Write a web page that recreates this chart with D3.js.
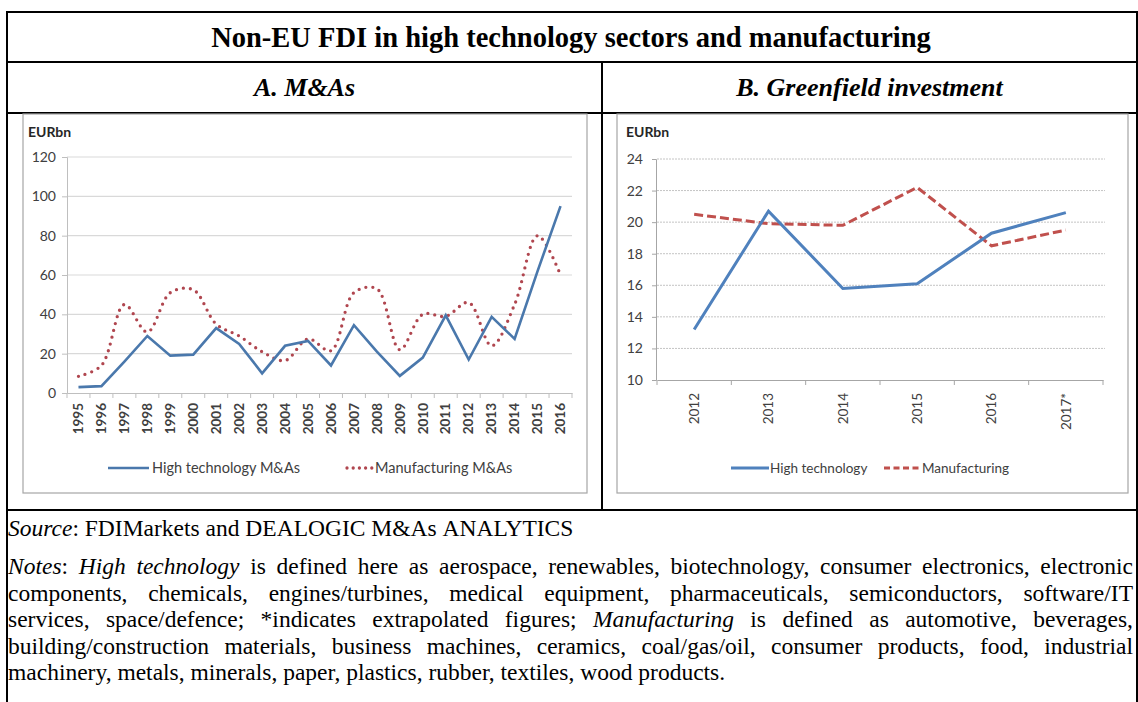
<!DOCTYPE html>
<html><head><meta charset="utf-8">
<script src="https://cdn.jsdelivr.net/npm/d3@7/dist/d3.min.js"></script>
<style>body{margin:0;background:#fff}svg{display:block}</style>
</head><body>
<svg id="c" width="1138" height="702"></svg>
<script>
// ---------- DATA ----------
const mainTitle = "Non-EU FDI in high technology sectors and manufacturing";
const panelTitles = ["A. M&As", "B. Greenfield investment"];
const unitLabel = "EURbn";

const yearsA = ["1995","1996","1997","1998","1999","2000","2001","2002","2003","2004","2005","2006","2007","2008","2009","2010","2011","2012","2013","2014","2015","2016"];
const highTechMA = [3,3.5,16,29,19,19.5,33,25,10,24,26.5,14,34.5,21,8.7,18,39.5,17,38.7,27.5,62,95];
const manufMA    = [8.5,14,45,31,51,52.5,35,29,21,16.5,27.5,21.5,51,53,22,40,39,46,24,45,80,60];
const yTicksA = [0,20,40,60,80,100,120];
const seriesNamesA = ["High technology M&As", "Manufacturing M&As"];

const yearsB = ["2012","2013","2014","2015","2016","2017*"];
const highTechGF = [13.2,20.7,15.8,16.1,19.3,20.6];
const manufGF    = [20.5,19.9,19.8,22.2,18.5,19.5];
const yTicksB = [10,12,14,16,18,20,22,24];
const seriesNamesB = ["High technology", "Manufacturing"];

const sourceLine = "_Source_: FDIMarkets and DEALOGIC M&As ANALYTICS";
const noteLines = [
  "_Notes_: _High technology_ is defined here as aerospace, renewables, biotechnology, consumer electronics, electronic",
  "components, chemicals, engines/turbines, medical equipment, pharmaceuticals, semiconductors, software/IT",
  "services, space/defence; *indicates extrapolated figures; _Manufacturing_ is defined as automotive, beverages,",
  "building/construction materials, business machines, ceramics, coal/gas/oil, consumer products, food, industrial",
  "machinery, metals, minerals, paper, plastics, rubber, textiles, wood products."
];

// ---------- LAYOUT ----------
const svg = d3.select("#c");
const serif = "'Liberation Serif','Times New Roman',serif";
const sans = "Lato, 'Open Sans', sans-serif";
const L = {tableL:7, tableR:1137, top:12, titleLine:62, subLine:113, mid:602, chartBottom:510,
  boxTop:114, boxBottom:493};

const tbl = svg.append("g").attr("stroke","#000");
const hl = (y)=>tbl.append("line").attr("x1",L.tableL-1).attr("x2",L.tableR+1).attr("y1",y).attr("y2",y).attr("stroke-width",2);
[L.top,L.titleLine,L.subLine,L.chartBottom].forEach(hl);
tbl.append("line").attr("x1",L.tableL).attr("x2",L.tableL).attr("y1",L.top).attr("y2",702).attr("stroke-width",2);
tbl.append("line").attr("x1",L.tableR).attr("x2",L.tableR).attr("y1",L.top).attr("y2",702).attr("stroke-width",2);
tbl.append("line").attr("x1",L.mid).attr("x2",L.mid).attr("y1",L.titleLine).attr("y2",L.chartBottom).attr("stroke-width",2);

svg.append("text").attr("x",571).attr("y",47)
  .attr("text-anchor","middle").attr("font-family",serif).attr("font-weight","bold").attr("font-size",28.5).text(mainTitle);
svg.append("text").attr("x",(L.tableL+L.mid)/2).attr("y",96)
  .attr("text-anchor","middle").attr("font-family",serif).attr("font-weight","bold").attr("font-style","italic").attr("font-size",26).text(panelTitles[0]);
svg.append("text").attr("x",(L.mid+L.tableR)/2).attr("y",96)
  .attr("text-anchor","middle").attr("font-family",serif).attr("font-weight","bold").attr("font-style","italic").attr("font-size",26).text(panelTitles[1]);

svg.append("rect").attr("x",23).attr("y",L.boxTop).attr("width",587-23).attr("height",L.boxBottom-L.boxTop)
  .attr("fill","#fff").attr("stroke","#a6a6a6").attr("stroke-width",1.2);
svg.append("rect").attr("x",617).attr("y",L.boxTop).attr("width",1128-617).attr("height",L.boxBottom-L.boxTop)
  .attr("fill","#fff").attr("stroke","#a6a6a6").attr("stroke-width",1.2);

const axisColor = "#404040";
// ---------- CHART A ----------
(function(){
  const g = svg.append("g");
  const x = d3.scaleBand().domain(yearsA).range([67,572]);
  const y = d3.scaleLinear().domain([0,120]).range([393,157]);
  g.append("text").attr("x",28).attr("y",137).attr("font-family",sans).attr("font-weight","bold")
    .attr("font-size",14).attr("fill","#262626").text(unitLabel);
  g.append("g").selectAll("line").data(yTicksA.filter(d=>d>0)).join("line")
    .attr("x1",67).attr("x2",572).attr("y1",d=>y(d)).attr("y2",d=>y(d)).attr("stroke","#d9d9d9").attr("stroke-width",1.2);
  const ya = g.append("g").attr("transform","translate(67,0)")
    .call(d3.axisLeft(y).tickValues(yTicksA).tickSize(5).tickPadding(6));
  ya.select(".domain").attr("stroke","#bfbfbf");
  ya.selectAll(".tick line").attr("stroke","#bfbfbf");
  ya.selectAll("text").attr("font-family",sans).attr("font-size",14).attr("fill",axisColor);
  const xa = g.append("g").attr("transform","translate(0,393)")
    .call(d3.axisBottom(x).tickSize(0).tickPadding(0));
  xa.select(".domain").attr("stroke","#bfbfbf");
  xa.selectAll("text").attr("font-family",sans).attr("font-size",13.5).attr("font-weight","bold").attr("fill",axisColor)
    .attr("text-anchor","end").attr("dy","0.35em").attr("transform","translate(0,10) rotate(-90)");
  g.append("g").selectAll("line").data(d3.range(yearsA.length+1)).join("line")
    .attr("x1",i=>x.range()[0]+i*x.step()).attr("x2",i=>x.range()[0]+i*x.step())
    .attr("y1",393).attr("y2",398).attr("stroke","#bfbfbf");
  const cx = d=>x(d)+x.bandwidth()/2;
  g.append("path").datum(manufMA).attr("fill","none").attr("stroke","#b0464f").attr("stroke-width",3.3)
    .attr("stroke-linecap","round").attr("stroke-dasharray","0 7")
    .attr("d",d3.line().x((d,i)=>cx(yearsA[i])).y(d=>y(d)).curve(d3.curveCatmullRom.alpha(0.5)));
  g.append("path").datum(highTechMA).attr("fill","none").attr("stroke","#4a78ac").attr("stroke-width",2.6)
    .attr("d",d3.line().x((d,i)=>cx(yearsA[i])).y(d=>y(d)));
  const lg = g.append("g").attr("font-family",sans).attr("font-size",14.5);
  lg.append("line").attr("x1",108).attr("x2",149).attr("y1",468).attr("y2",468).attr("stroke","#4a78ac").attr("stroke-width",2.6);
  lg.append("text").attr("x",152).attr("y",468).attr("dy","0.35em").attr("fill",axisColor).text(seriesNamesA[0]);
  lg.append("line").attr("x1",347).attr("x2",372).attr("y1",468).attr("y2",468).attr("stroke","#b0464f").attr("stroke-width",3.3)
    .attr("stroke-linecap","round").attr("stroke-dasharray","0 6.2");
  lg.append("text").attr("x",375).attr("y",468).attr("dy","0.35em").attr("fill",axisColor).text(seriesNamesA[1]);
})();

// ---------- CHART B ----------
(function(){
  const g = svg.append("g");
  const x = d3.scaleBand().domain(yearsB).range([657,1103]);
  const y = d3.scaleLinear().domain([10,24]).range([380,159]);
  g.append("text").attr("x",626).attr("y",137).attr("font-family",sans).attr("font-weight","bold")
    .attr("font-size",14).attr("fill","#262626").text(unitLabel);
  g.append("g").selectAll("line").data(yTicksB.filter(d=>d>10)).join("line")
    .attr("x1",657).attr("x2",1105).attr("y1",d=>y(d)).attr("y2",d=>y(d)).attr("stroke","#c4c4c4").attr("stroke-width",1)
    .attr("stroke-dasharray","2 1");
  const ya = g.append("g").attr("transform","translate(656,0)")
    .call(d3.axisLeft(y).tickValues(yTicksB).tickSize(4).tickPadding(9));
  ya.select(".domain").attr("stroke","#a6a6a6");
  ya.selectAll(".tick line").attr("stroke","#a6a6a6");
  ya.selectAll("text").attr("font-family",sans).attr("font-size",14).attr("fill",axisColor);
  const xa = g.append("g").attr("transform","translate(0,380)")
    .call(d3.axisBottom(x).tickSize(0).tickPadding(0));
  xa.select(".domain").attr("stroke","#a6a6a6");
  xa.selectAll("text").attr("font-family",sans).attr("font-size",13.5).attr("fill",axisColor)
    .attr("text-anchor","end").attr("dy","0.35em").attr("transform","translate(0,13) rotate(-90)");
  g.append("g").selectAll("line").data(d3.range(yearsB.length+1)).join("line")
    .attr("x1",i=>x.range()[0]+i*x.step()).attr("x2",i=>x.range()[0]+i*x.step())
    .attr("y1",380).attr("y2",385).attr("stroke","#a6a6a6");
  const cx = d=>x(d)+x.bandwidth()/2;
  g.append("path").datum(manufGF).attr("fill","none").attr("stroke","#c0504d").attr("stroke-width",3)
    .attr("stroke-dasharray","9 4")
    .attr("d",d3.line().x((d,i)=>cx(yearsB[i])).y(d=>y(d)));
  g.append("path").datum(highTechGF).attr("fill","none").attr("stroke","#4f81bd").attr("stroke-width",3)
    .attr("d",d3.line().x((d,i)=>cx(yearsB[i])).y(d=>y(d)));
  const lg = g.append("g").attr("font-family",sans).attr("font-size",13.5);
  lg.append("line").attr("x1",731).attr("x2",769).attr("y1",468).attr("y2",468).attr("stroke","#4f81bd").attr("stroke-width",3);
  lg.append("text").attr("x",770).attr("y",468).attr("dy","0.35em").attr("fill",axisColor).text(seriesNamesB[0]);
  lg.append("line").attr("x1",884).attr("x2",920).attr("y1",468).attr("y2",468).attr("stroke","#c0504d").attr("stroke-width",3)
    .attr("stroke-dasharray","6 3.5");
  lg.append("text").attr("x",922).attr("y",468).attr("dy","0.35em").attr("fill",axisColor).text(seriesNamesB[1]);
})();

// ---------- TEXT (source / notes) ----------
function parseWords(line){
  const words=[]; let italic=false; let cur=[]; let buf="";
  const flush=()=>{ if(buf){cur.push({t:buf,i:italic}); buf="";} };
  for(const ch of line){
    if(ch==="_"){ flush(); italic=!italic; }
    else if(ch===" "){ flush(); if(cur.length){words.push(cur); cur=[];} }
    else buf+=ch;
  }
  flush(); if(cur.length) words.push(cur);
  return words;
}
function drawLine(line, x0, x1, yb, justify, fs){
  const words = parseWords(line);
  const g = svg.append("g").attr("font-family",serif).attr("font-size",fs).attr("fill","#000");
  const nodes = words.map(w=>{
    const t = g.append("text").attr("y",yb);
    w.forEach(p=>t.append("tspan").attr("font-style",p.i?"italic":null).text(p.t));
    return t;
  });
  const widths = nodes.map(n=>n.node().getComputedTextLength());
  const total = d3.sum(widths);
  const spaceW = fs*0.25;
  let gap = justify && words.length>1 ? (x1-x0-total)/(words.length-1) : spaceW;
  let sx = 1;
  if (gap < spaceW*0.8) { sx = (x1-x0-spaceW*0.8*(words.length-1))/total; gap = spaceW*0.8; }
  let x = x0;
  nodes.forEach((n,i)=>{ n.attr("x",x); if(sx<1) n.attr("transform",`translate(${x},0) scale(${sx},1) translate(${-x},0)`); x += widths[i]*sx+gap; });
}
const fsNotes = 23.5;
drawLine(sourceLine, 8, 1133, 536, false, fsNotes);
noteLines.forEach((l,i)=> drawLine(l, 8, 1133, 574+i*26.5, i<noteLines.length-1, fsNotes));
</script>
</body></html>
